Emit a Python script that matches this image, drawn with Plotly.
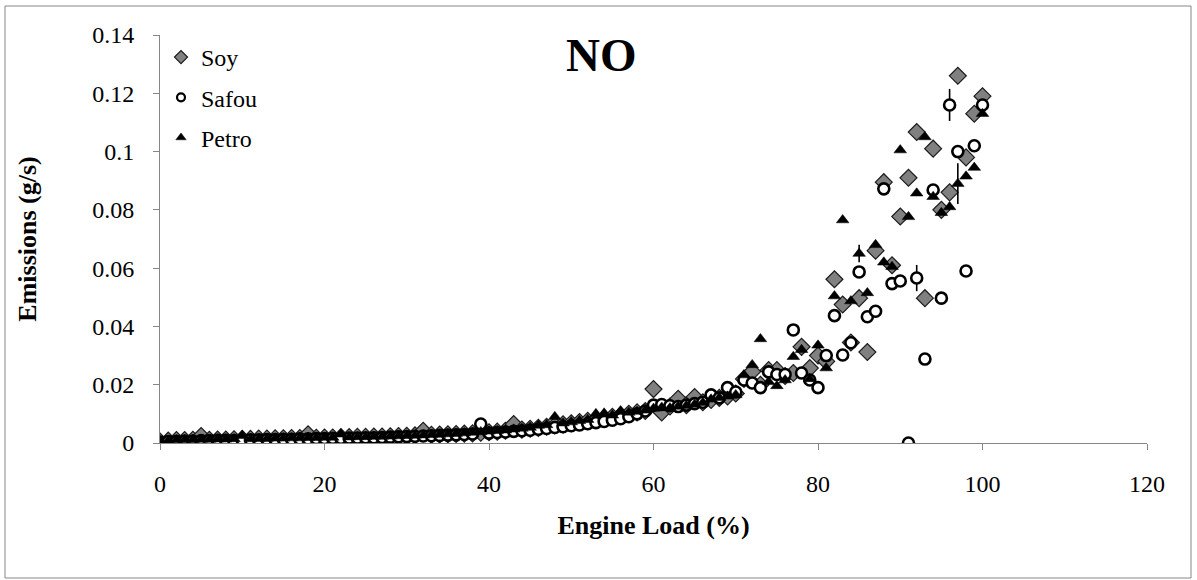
import plotly.graph_objects as go

load = list(range(0, 101))

soy = [0.0005, 0.0008, 0.0010, 0.0010, 0.0011, 0.0024, 0.0011, 0.0012, 0.0012, 0.0013,
       0.0014, 0.0014, 0.0015, 0.0015, 0.0016, 0.0016, 0.0017, 0.0017, 0.0030, 0.0018,
       0.0019, 0.0019, 0.0020, 0.0020, 0.0021, 0.0021, 0.0022, 0.0022, 0.0023, 0.0024,
       0.0025, 0.0026, 0.0042, 0.0028, 0.0029, 0.0030, 0.0031, 0.0032, 0.0033, 0.0035,
       0.0037, 0.0039, 0.0042, 0.0065, 0.0046, 0.0049, 0.0052, 0.0056, 0.0060, 0.0064,
       0.0068, 0.0072, 0.0076, 0.0080, 0.0085, 0.0090, 0.0095, 0.0100, 0.0105, 0.0110,
       0.0185, 0.0105, 0.0125, 0.0152, 0.0130, 0.0158, 0.0140, 0.0148, 0.0155, 0.0160,
       0.0170, 0.0220, 0.0245, 0.0200, 0.0250, 0.0250, 0.0230, 0.0240, 0.0330, 0.0257,
       0.0300, 0.0280, 0.0562, 0.0475, 0.0345, 0.0497, 0.0312, 0.0660, 0.0895, 0.0610,
       0.0777, 0.0910, 0.1067, 0.0497, 0.1010, 0.0800, 0.0860, 0.1260, 0.0980, 0.1130,
       0.1190]

safou = [0.0003, 0.0005, 0.0006, 0.0007, 0.0007, 0.0008, 0.0008, 0.0009, 0.0009, 0.0008,
         0.0010, 0.0011, 0.0011, 0.0012, 0.0012, 0.0013, 0.0013, 0.0014, 0.0014, 0.0015,
         0.0015, 0.0016, 0.0016, 0.0017, 0.0017, 0.0018, 0.0018, 0.0019, 0.0020, 0.0021,
         0.0022, 0.0023, 0.0024, 0.0025, 0.0026, 0.0027, 0.0028, 0.0029, 0.0031, 0.0065,
         0.0034, 0.0036, 0.0038, 0.0040, 0.0042, 0.0044, 0.0047, 0.0050, 0.0053, 0.0056,
         0.0059, 0.0062, 0.0066, 0.0070, 0.0074, 0.0078, 0.0083, 0.0090, 0.0100, 0.0110,
         0.0130, 0.0132, 0.0128, 0.0125, 0.0130, 0.0135, 0.0140, 0.0165, 0.0155, 0.0190,
         0.0175, 0.0216, 0.0206, 0.0190, 0.0244, 0.0235, 0.0235, 0.0388, 0.0240, 0.0216,
         0.0190, 0.0300, 0.0437, 0.0302, 0.0344, 0.0587, 0.0433, 0.0452, 0.0872, 0.0547,
         0.0556, 0.0000, 0.0566, 0.0288, 0.0868, 0.0497, 0.1160, 0.1000, 0.0590, 0.1020,
         0.1160]

petro = [0.0006, 0.0008, 0.0010, 0.0011, 0.0011, 0.0012, 0.0012, 0.0013, 0.0013, 0.0014,
         0.0025, 0.0014, 0.0015, 0.0015, 0.0016, 0.0016, 0.0017, 0.0017, 0.0018, 0.0018,
         0.0019, 0.0019, 0.0030, 0.0020, 0.0021, 0.0021, 0.0022, 0.0022, 0.0023, 0.0024,
         0.0025, 0.0026, 0.0027, 0.0028, 0.0029, 0.0031, 0.0032, 0.0034, 0.0036, 0.0038,
         0.0040, 0.0042, 0.0044, 0.0047, 0.0050, 0.0053, 0.0060, 0.0062, 0.0090, 0.0068,
         0.0072, 0.0076, 0.0080, 0.0100, 0.0102, 0.0095, 0.0110, 0.0105, 0.0108, 0.0112,
         0.0118, 0.0122, 0.0120, 0.0125, 0.0128, 0.0132, 0.0138, 0.0150, 0.0155, 0.0160,
         0.0165, 0.0233, 0.0268, 0.0357, 0.0210, 0.0196, 0.0216, 0.0296, 0.0320, 0.0220,
         0.0335, 0.0257, 0.0504, 0.0765, 0.0487, 0.0650, 0.0515, 0.0680, 0.0620, 0.0605,
         0.1005, 0.0776, 0.0857, 0.1050, 0.0845, 0.0790, 0.0810, 0.0890, 0.0915, 0.0945,
         0.1130]

# error bars (g/s); only the visible ones
safou_err = {92: 0.0045, 96: 0.0055}
petro_err = {85: 0.003, 97: 0.007}

x_ticks = [0, 20, 40, 60, 80, 100, 120]
y_ticks = [0, 0.02, 0.04, 0.06, 0.08, 0.1, 0.12, 0.14]
y_tick_text = ["0", "0.02", "0.04", "0.06", "0.08", "0.1", "0.12", "0.14"]

FONT = "Liberation Serif, Times New Roman, serif"
GRAY = "#868686"
TICK_SIZE = 24
TITLE_SIZE = 26

def err_array(d):
    return [d.get(x, 0.0) for x in load]

soy_marker = dict(symbol="diamond", color="#808080", line=dict(color="#1a1a1a", width=1.2))
safou_marker = dict(symbol="circle", color="white", line=dict(color="black", width=2.6))
petro_marker = dict(symbol="triangle-up", color="black", line=dict(color="black", width=0.5))

fig = go.Figure()
fig.add_trace(go.Scatter(
    x=load, y=soy, mode="markers", name="Soy", showlegend=False,
    marker=dict(size=13, **soy_marker),
))
fig.add_trace(go.Scatter(
    x=load, y=safou, mode="markers", name="Safou", showlegend=False,
    marker=dict(size=11, **safou_marker),
    error_y=dict(type="data", array=err_array(safou_err), visible=True,
                 color="black", thickness=1.6, width=0),
))
fig.add_trace(go.Scatter(
    x=load, y=petro, mode="markers", name="Petro", showlegend=False,
    marker=dict(size=11, **petro_marker),
    error_y=dict(type="data", array=err_array(petro_err), visible=True,
                 color="black", thickness=1.6, width=0),
))
# legend entries (smaller symbols, as in the original legend)
for nm, mk, sz, grp in [("Soy", soy_marker, 10, "a"),
                        ("Safou", dict(symbol="circle", color="white", line=dict(color="black", width=2.2)), 8, "b"),
                        ("Petro", petro_marker, 9, "c")]:
    fig.add_trace(go.Scatter(x=[None], y=[None], mode="markers", name=nm,
                             legendgroup=grp, marker=dict(size=sz, **mk)))

# plot area: x 160..1147 px, y 35..443 px
L, R, T, B = 160, 1147, 35, 443
W, H = 1197, 580
def px(xp):
    return (xp - L) / (R - L)
def py(yp):
    return (B - yp) / (B - T)

fig.update_layout(
    width=W, height=H,
    margin=dict(l=L, r=W - R, t=T, b=H - B, pad=0),
    paper_bgcolor="white", plot_bgcolor="white",
    font=dict(family=FONT, size=TICK_SIZE, color="black"),
    showlegend=True,
    legend=dict(x=px(161), y=py(35), xanchor="left", yanchor="top",
                bgcolor="rgba(0,0,0,0)", font=dict(family=FONT, size=TICK_SIZE),
                tracegroupgap=6, itemwidth=30),
    xaxis=dict(range=[0, 120], tickvals=x_ticks, showgrid=False, zeroline=False,
               showline=True, linecolor=GRAY, linewidth=1,
               ticks="outside", ticklen=6, tickcolor=GRAY, ticklabelstandoff=13,
               tickfont=dict(family=FONT, size=TICK_SIZE), fixedrange=True,
               title=dict(text="<b>Engine Load (%)</b>", standoff=20,
                          font=dict(family=FONT, size=TITLE_SIZE))),
    yaxis=dict(range=[0, 0.14], tickvals=y_ticks, ticktext=y_tick_text,
               showgrid=False, zeroline=False,
               showline=True, linecolor=GRAY, linewidth=1,
               ticks="outside", ticklen=6, tickcolor=GRAY, ticklabelstandoff=14,
               tickfont=dict(family=FONT, size=TICK_SIZE), fixedrange=True,
               title=dict(text="<b>Emissions (g/s)</b>", standoff=48,
                          font=dict(family=FONT, size=TITLE_SIZE))),
    annotations=[dict(text="<b>NO</b>", x=px(601), y=py(55), xref="paper", yref="paper",
                      showarrow=False, xanchor="center", yanchor="middle",
                      font=dict(family=FONT, size=47, color="black"))],
    shapes=[dict(type="rect", xref="paper", yref="paper",
                 x0=px(5), x1=px(1191), y0=py(578), y1=py(6),
                 line=dict(color=GRAY, width=1), fillcolor="rgba(0,0,0,0)",
                 layer="below")],
)

fig.write_html("out.html")
